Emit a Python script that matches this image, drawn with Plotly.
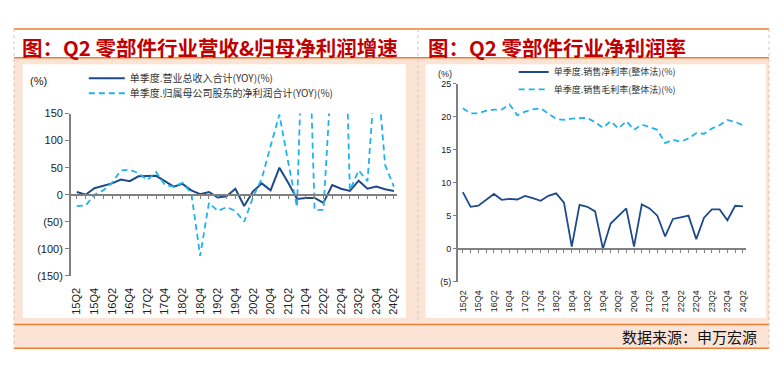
import plotly.graph_objects as go

# ---------------- data ----------------
quarters = ["15Q2", "15Q3", "15Q4", "16Q1", "16Q2", "16Q3", "16Q4", "17Q1", "17Q2", "17Q3",
            "17Q4", "18Q1", "18Q2", "18Q3", "18Q4", "19Q1", "19Q2", "19Q3", "19Q4", "20Q1",
            "20Q2", "20Q3", "20Q4", "21Q1", "21Q2", "21Q3", "21Q4", "22Q1", "22Q2", "22Q3",
            "22Q4", "23Q1", "23Q2", "23Q3", "23Q4", "24Q1", "24Q2"]

revenue_yoy = [5, 0, 12, 16, 21, 28, 25, 34, 34, 35, 25, 15, 20, 8, 1, 5, -5, -3, 11, -21,
               6, 21, 8, 50, 22, -8, -6, -6, -15, 18, 11, 7, 26, 11, 15, 10, 7]
profit_yoy = [-21, -20, 0, 8, 22, 45, 46, 40, 27, 42, 18, 15, 22, 3, -113, -15, -30, -23, -30, -50,
              -5, 30, 90, 148, 60, -23, 500, -28, -28, 250, 600, 8, 45, 25, 250, 55, 15]

net_margin = [8.57, 6.34, 6.5, 7.4, 8.28, 7.4, 7.55, 7.45, 8.0, 7.65, 7.26, 8.0, 8.38, 6.97, 0.3,
              6.63, 6.34, 5.65, 0.0, 3.8, 5.0, 6.1, 0.3, 6.7, 6.1, 5.0, 1.85, 4.5, 4.75, 5.0,
              1.45, 4.7, 5.95, 5.95, 4.3, 6.5, 6.4]
gross_margin = [21.25, 20.5, 20.5, 20.9, 21.05, 21.05, 21.85, 20.2, 20.75, 21.1, 21.25, 20.4,
                19.65, 19.5, 19.7, 19.75, 19.8, 19.15, 18.3, 19.3, 18.2, 19.3, 18.0, 18.8, 18.4,
                18.0, 16.0, 16.5, 16.2, 16.7, 17.5, 17.4, 18.2, 18.7, 19.5, 19.2, 18.7]

left_yticks = [-150, -100, -50, 0, 50, 100, 150]
left_ytext = ["(150)", "(100)", "(50)", "0", "50", "100", "150"]
right_yticks = [-5, 0, 5, 10, 15, 20, 25]
right_ytext = ["(5)", "0", "5", "10", "15", "20", "25"]

title_left = "图：Q2 零部件行业营收&归母净利润增速"
title_right = "图：Q2 零部件行业净利润率"
source_text = "数据来源：申万宏源"
name_rev = "单季度.营业总收入合计(YOY)(%)"
name_profit = "单季度.归属母公司股东的净利润合计(YOY)(%)"
name_net = "单季度.销售净利率(整体法)(%)"
name_gross = "单季度.销售毛利率(整体法)(%)"

# ---------------- styling helpers ----------------
# the page body has an 8px margin, so the figure is placed at (8, 8) in the window
OFF = 8
W, H = 784 - 2 * OFF, 373 - 2 * OFF
def fx(x):
    return (x - OFF) / W
def fy(y):
    return 1 - (y - OFF) / H

NAVY = "#1F4A8A"
SKY = "#1FB2EE"
ORANGE = "#ED7D31"
PEACH = "#FBE4D6"
AX = "#808080"
CJK = "Noto Sans CJK SC"
LAT = "Liberation Sans"

xtext = [q if i % 2 == 0 else "" for i, q in enumerate(quarters)]

fig = go.Figure()

fig.add_trace(go.Scatter(x=quarters, y=revenue_yoy, mode="lines", name=name_rev,
                         line=dict(color=NAVY, width=2), xaxis="x", yaxis="y", legend="legend"))
fig.add_trace(go.Scatter(x=quarters, y=profit_yoy, mode="lines", name=name_profit,
                         line=dict(color=SKY, width=1.8, dash="6px,4px"), xaxis="x", yaxis="y",
                         legend="legend2"))
fig.add_trace(go.Scatter(x=quarters, y=net_margin, mode="lines", name=name_net,
                         line=dict(color=NAVY, width=1.8), xaxis="x2", yaxis="y2", legend="legend3"))
fig.add_trace(go.Scatter(x=quarters, y=gross_margin, mode="lines", name=name_gross,
                         line=dict(color=SKY, width=1.8, dash="6px,4px"), xaxis="x2", yaxis="y2",
                         legend="legend4"))

shapes = []
shapes.append(dict(type="rect", xref="paper", yref="paper", x0=fx(14), x1=fx(771), y0=fy(354), y1=fy(53),
                   fillcolor=PEACH, line_width=0, layer="below"))
shapes.append(dict(type="rect", xref="paper", yref="paper", x0=fx(22.7), x1=fx(407), y0=fy(322.7), y1=fy(60),
                   fillcolor="white", line_width=0, layer="below"))
shapes.append(dict(type="rect", xref="paper", yref="paper", x0=fx(426.7), x1=fx(768), y0=fy(322.7), y1=fy(60),
                   fillcolor="white", line_width=0, layer="below"))
for yy in (23.5, 53.3, 329.3, 354):
    shapes.append(dict(type="line", xref="paper", yref="paper", x0=fx(14), x1=fx(771), y0=fy(yy), y1=fy(yy),
                       line=dict(color=ORANGE, width=1.5), layer="below"))
for xx, y0, y1 in ((14, 23.5, 354), (771, 23.5, 354), (419, 23.5, 329.3)):
    shapes.append(dict(type="line", xref="paper", yref="paper", x0=fx(xx), x1=fx(xx), y0=fy(y0), y1=fy(y1),
                       line=dict(color="#C8C8C8", width=1, dash="dot"), layer="below"))

annotations = [
    dict(text="<b>" + title_left + "</b>", x=fx(20), y=fy(42), xref="paper", yref="paper",
         xanchor="left", yanchor="middle", showarrow=False, font=dict(family=CJK, size=20.5, color="#C00000")),
    dict(text="<b>" + title_right + "</b>", x=fx(427), y=fy(42), xref="paper", yref="paper",
         xanchor="left", yanchor="middle", showarrow=False, font=dict(family=CJK, size=20.5, color="#C00000")),
    dict(text=source_text, x=fx(761), y=fy(342), xref="paper", yref="paper",
         xanchor="right", yanchor="middle", showarrow=False, font=dict(family=CJK, size=15, color="#111111")),
    dict(text="(%)", x=fx(38.5), y=fy(77), xref="paper", yref="paper", xanchor="center", yanchor="middle",
         showarrow=False, font=dict(family=LAT, size=11, color="#222222")),
    dict(text="(%)", x=fx(446.5), y=fy(70), xref="paper", yref="paper", xanchor="center", yanchor="middle",
         showarrow=False, font=dict(family=LAT, size=9, color="#222222")),
]

common_x = dict(type="category", tickangle=-90, ticks="outside", ticklen=4, tickcolor=AX, tickwidth=1,
                showline=True, linecolor=AX, linewidth=1.5, showgrid=False, zeroline=False,
                tickvals=quarters, ticktext=xtext, anchor="free")
common_y = dict(ticks="outside", ticklen=4, tickcolor=AX, showline=True, linecolor=AX, linewidth=1.5,
                showgrid=False, zeroline=False, tickmode="array")

legend_common = dict(xanchor="left", yanchor="middle", bgcolor="rgba(0,0,0,0)", borderwidth=0)

fig.update_layout(
    width=W, height=H, autosize=False,
    margin=dict(l=0, r=0, t=0, b=0),
    paper_bgcolor="white", plot_bgcolor="rgba(0,0,0,0)",
    font=dict(family=LAT + ", " + CJK, color="#222222"),
    showlegend=True,
    shapes=shapes, annotations=annotations,
    xaxis=dict(common_x, domain=[fx(71), fx(398)], range=[-0.68, 36.35], position=fy(195),
               ticklabelstandoff=84, tickfont=dict(family=LAT, size=11, color="#222222")),
    yaxis=dict(common_y, domain=[fy(279), fy(111)], range=[-150, 150], anchor="x",
               tickvals=left_yticks, ticktext=left_ytext, tickfont=dict(family=LAT, size=11, color="#222222")),
    xaxis2=dict(common_x, domain=[fx(459), fx(748)], range=[-0.64, 36.4], position=fy(251),
                ticklabelstandoff=34, ticklen=3, tickfont=dict(family=LAT, size=9, color="#222222")),
    yaxis2=dict(common_y, domain=[fy(285), fy(80)], range=[-5, 25], anchor="x2", ticklen=3,
                tickvals=right_yticks, ticktext=right_ytext, tickfont=dict(family=LAT, size=9, color="#222222")),
    legend=dict(legend_common, x=fx(84), y=fy(74.5), itemwidth=36,
                font=dict(family=CJK, size=10, color="#333333")),
    legend2=dict(legend_common, x=fx(84), y=fy(90), itemwidth=36,
                 font=dict(family=CJK, size=10, color="#333333")),
    legend3=dict(legend_common, x=fx(515), y=fy(68), itemwidth=30,
                 font=dict(family=CJK, size=9, color="#333333")),
    legend4=dict(legend_common, x=fx(515), y=fy(86), itemwidth=30,
                 font=dict(family=CJK, size=9, color="#333333")),
)

fig.write_html("out.html")
